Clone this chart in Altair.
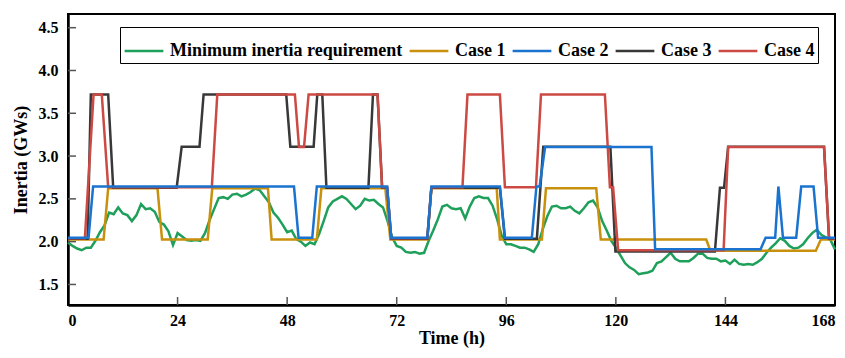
import altair as alt
import pandas as pd

series_names = ["Minimum inertia requirement", "Case 1", "Case 2", "Case 3", "Case 4"]
series_colors = ["#1e9f5a", "#c8900c", "#1a73cf", "#383838", "#cc4a43"]
draw_order = ["Minimum inertia requirement", "Case 1", "Case 3", "Case 4", "Case 2"]

hours = list(range(169))
min_inertia = [
    1.99, 1.95, 1.92, 1.90, 1.93, 1.93, 2.01, 2.11, 2.19, 2.34,
    2.32, 2.40, 2.33, 2.31, 2.24, 2.31, 2.44, 2.38, 2.39, 2.35,
    2.23, 2.20, 2.12, 1.96, 2.10, 2.06, 2.02, 2.01, 2.02, 2.01,
    2.10, 2.25, 2.38, 2.51, 2.52, 2.50, 2.55, 2.56, 2.53, 2.55,
    2.58, 2.62, 2.60, 2.53, 2.46, 2.34, 2.28, 2.20, 2.11, 2.13,
    2.03, 2.00, 1.95, 1.99, 1.97, 2.09, 2.24, 2.40, 2.47, 2.50,
    2.53, 2.50, 2.44, 2.38, 2.42, 2.50, 2.48, 2.49, 2.44, 2.40,
    2.24, 2.05, 1.95, 1.93, 1.88, 1.87, 1.88, 1.86, 1.87, 2.01,
    2.13, 2.26, 2.41, 2.43, 2.39, 2.38, 2.39, 2.27, 2.41, 2.51,
    2.53, 2.51, 2.51, 2.42, 2.26, 2.07, 1.97, 1.97, 1.95, 1.93,
    1.93, 1.91, 1.88, 1.97, 2.15, 2.30, 2.41, 2.42, 2.39, 2.39,
    2.41, 2.36, 2.33, 2.39, 2.46, 2.48, 2.40, 2.24, 2.13, 2.01,
    1.93, 1.84, 1.75, 1.70, 1.67, 1.62, 1.63, 1.64, 1.66, 1.75,
    1.77, 1.82, 1.87, 1.80, 1.77, 1.77, 1.77, 1.81, 1.86, 1.86,
    1.81, 1.80, 1.80, 1.77, 1.78, 1.74, 1.79, 1.74, 1.73, 1.74,
    1.73, 1.76, 1.80, 1.87, 1.93, 1.98, 2.04, 2.01, 1.95, 1.92,
    1.93, 1.97, 2.04, 2.10, 2.14, 2.08, 2.05, 2.02, 1.91,
]

case1_t = [0, 7.8, 8.8, 19.6, 20.6, 30.6, 31.6, 43.8, 44.6, 54.5, 55.5, 69.5, 70.6,
           78.7, 79.6, 93.9, 94.6, 103.8, 104.7, 115.7, 116.7, 139.8, 140.7, 163.8,
           164.9, 168]
case1_v = [2.025, 2.025, 2.625, 2.625, 2.025, 2.025, 2.625, 2.625, 2.025, 2.025,
           2.625, 2.625, 2.025, 2.025, 2.625, 2.625, 2.025, 2.025, 2.625, 2.625,
           2.025, 2.025, 1.895, 1.895, 2.025, 2.025]

case2_t = [0, 4.5, 5.5, 49.5, 50.5, 53.5, 54.5, 69.9, 70.8, 78.7, 79.6, 94.6, 95.7,
           101.6, 102.6, 103.3, 104.5, 127.8, 128.6, 151.7, 152.8, 154.9, 155.6,
           156.6, 159.5, 160.6, 163.3, 164.3, 168]
case2_v = [2.045, 2.045, 2.645, 2.645, 2.045, 2.045, 2.645, 2.645, 2.045, 2.045,
           2.645, 2.645, 2.045, 2.045, 2.645, 2.645, 3.105, 3.105, 1.91, 1.91,
           2.045, 2.045, 2.645, 2.045, 2.045, 2.645, 2.645, 2.045, 2.045]

case3_t = [0, 4.3, 5.0, 8.8, 9.9, 23.8, 24.9, 28.8, 29.7, 47.8, 48.7, 53.8, 54.6,
           55.7, 56.6, 65.8, 66.8, 67.8, 68.8, 69.9, 70.8, 78.7, 79.6, 94.6, 95.7,
           102.7, 104.1, 118.8, 119.9, 141.7, 142.8, 143.7, 144.6, 165.6, 166.7, 168]
case3_v = [2.035, 2.035, 3.72, 3.72, 2.63, 2.63, 3.11, 3.11, 3.72, 3.72,
           3.11, 3.11, 3.72, 3.72, 2.63, 2.63, 3.72, 3.72, 2.63, 2.63,
           2.035, 2.035, 2.63, 2.63, 2.035, 2.035, 3.11, 3.11, 1.885, 1.885,
           2.63, 2.63, 3.11, 3.11, 2.035, 2.035]

case4_t = [0, 3.7, 5.6, 7.4, 8.8, 31.5, 32.7, 49.7, 50.6, 51.7, 52.7, 67.8, 68.8,
           69.9, 70.8, 78.7, 79.6, 86.4, 87.5, 94.6, 95.7, 102.5, 103.6, 117.6,
           118.7, 119.4, 120.5, 143.6, 144.6, 165.6, 166.7, 168]
case4_v = [2.04, 2.04, 3.72, 3.72, 2.635, 2.635, 3.72, 3.72, 3.105, 3.105,
           3.72, 3.72, 2.635, 2.635, 2.04, 2.04, 2.635, 2.635, 3.72, 3.72,
           2.635, 2.635, 3.72, 3.72, 2.635, 2.635, 1.9, 1.9, 3.105, 3.105,
           2.04, 2.04]

x_ticks = [0, 24, 48, 72, 96, 120, 144, 168]
y_ticks = [1.5, 2.0, 2.5, 3.0, 3.5, 4.0, 4.5]

rows = []
for name, ts, vs in [
    (series_names[0], hours, min_inertia),
    (series_names[1], case1_t, case1_v),
    (series_names[2], case2_t, case2_v),
    (series_names[3], case3_t, case3_v),
    (series_names[4], case4_t, case4_v),
]:
    for t, v in zip(ts, vs):
        rows.append({"series": name, "t": t, "v": v})
df = pd.DataFrame(rows)

FONT = "Liberation Serif"
H = 291

x_enc = alt.X("t:Q", scale=alt.Scale(domain=[0, 168], nice=False, zero=False),
              axis=alt.Axis(values=x_ticks, title="Time (h)", ticks=False, grid=False,
                            labelPadding=7, titlePadding=1))
y_enc = alt.Y("v:Q", scale=alt.Scale(domain=[1.26, 4.66], nice=False, zero=False),
              axis=alt.Axis(values=y_ticks, format=".1f", title="Inertia (GWs)",
                            ticks=False, grid=False, labelPadding=10, titlePadding=8))
color_enc = alt.Color("series:N",
                      scale=alt.Scale(domain=series_names, range=series_colors),
                      legend=alt.Legend(orient="none", legendX=52, legendY=13,
                                        direction="horizontal", title=None))

layers = []
for s in draw_order:
    layers.append(
        alt.Chart(df).transform_filter(alt.datum.series == s)
        .mark_line(strokeWidth=2.5)
        .encode(x=x_enc, y=y_enc, color=color_enc)
    )

tx = alt.Chart(pd.DataFrame({"t": x_ticks[1:-1]})).mark_rule(
    color="#555555", strokeWidth=1.5
).encode(x=x_enc, y=alt.value(H), y2=alt.value(H - 8))
ty = alt.Chart(pd.DataFrame({"v": y_ticks})).mark_rule(
    color="#555555", strokeWidth=1.5
).encode(y=y_enc, x=alt.value(0), x2=alt.value(8))

chart = alt.layer(*layers, tx, ty).properties(
    width=767, height=H,
    autosize=alt.AutoSizeParams(type="none"),
    padding={"left": 60, "top": 6, "right": 2, "bottom": 45},
).configure_view(
    stroke="black", strokeWidth=2
).configure_axis(
    labelFont=FONT, labelFontWeight="bold", labelFontSize=16, labelColor="black",
    titleFont=FONT, titleFontWeight="bold", titleFontSize=18, titleColor="black",
    domainColor="black", domainWidth=2.5
).configure_legend(
    labelFont=FONT, labelFontWeight="bold", labelFontSize=18, labelColor="black",
    symbolStrokeWidth=2.5, symbolSize=1500, symbolType="stroke",
    labelOffset=5, columnPadding=1, padding=3, fillColor="white",
    strokeColor="black", labelLimit=400
)

chart.save("out.html", embed_options={"renderer": "svg", "actions": False})
